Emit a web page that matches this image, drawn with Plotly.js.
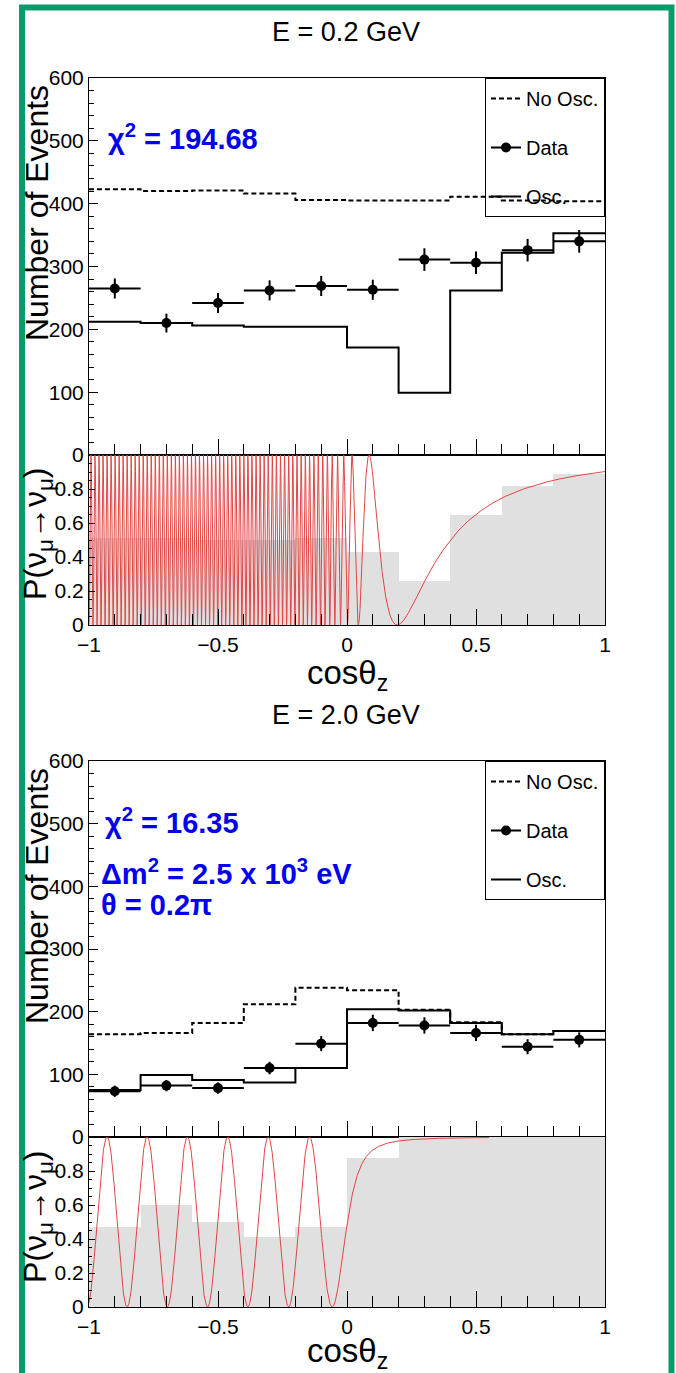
<!DOCTYPE html>
<html><head><meta charset="utf-8">
<script src="https://cdn.plot.ly/plotly-3.0.1.min.js"></script>
<style>html,body{margin:0;padding:0;background:#fff}</style>
</head><body><div id="chart" style="width:676px;height:1373px"></div>
<script>
// ---------- data ----------
const binEdges   = [-1, -0.8, -0.6, -0.4, -0.2, 0, 0.2, 0.4, 0.6, 0.8, 1];
const binCenters = [-0.9, -0.7, -0.5, -0.3, -0.1, 0.1, 0.3, 0.5, 0.7, 0.9];
const binHalf    = [0.1, 0.1, 0.1, 0.1, 0.1, 0.1, 0.1, 0.1, 0.1, 0.1];

// E = 0.2 GeV
const noOsc1 = [423, 420, 421, 416, 406, 405, 405, 411, 405, 404];
const osc1   = [212, 210, 206, 204, 204, 171, 99, 262, 322, 353];
const data1  = [265, 210, 242, 262, 269, 263, 311, 306, 326, 340];
const err1   = [16, 15, 16, 16, 16, 16, 18, 18, 18, 18];
const ratio1 = [0.51, 0.51, 0.50, 0.50, 0.51, 0.43, 0.26, 0.65, 0.82, 0.89];

// E = 2.0 GeV
const noOsc2 = [164, 166, 182, 212, 238, 234, 203, 183, 164, 169];
const osc2   = [75, 99, 91, 87, 110, 204, 202, 182, 164, 169];
const data2  = [73, 82, 78, 110, 149, 182, 178, 166, 144, 155];
const err2   = [9, 9, 9, 10, 12, 13, 13, 13, 12, 12];
const ratio2 = [0.47, 0.60, 0.50, 0.41, 0.47, 0.875, 1, 1, 1, 1];

// oscillation-curve parameters (the red TF1 in the reference)
const energies = [0.2, 2.0];       // GeV
const deltaM2  = 2.5e-3;           // eV^2
const curveEnd = [1.0, 0.55];      // where the drawn curve stops
const yTicksTop = [0, 100, 200, 300, 400, 500, 600];
const yTicksP   = [0, 0.2, 0.4, 0.6, 0.8];
const xTickText = ['\u22121', '\u22120.5', '0', '0.5', '1'];

// ---------- helpers ----------
const W = 676, H = 1373;
const FONT = 'Liberation Sans, Arial, Helvetica, sans-serif';
const px = v => v / W;
const py = v => 1 - v / H;

function stepY(vals) { return vals.concat([vals[vals.length - 1]]); }
function isolate(arr) { const o = []; arr.forEach((v, i) => { if (i) o.push(null); o.push(v); }); return o; }
function survival(c, E) {
  const R = 6371, h = 20;
  const L = -R * c + Math.sqrt(R * R * c * c + 2 * R * h + h * h);
  const s = Math.sin(1.27 * deltaM2 * L / E);
  return 1 - s * s;
}
function curve(E, xEnd, n) {
  const xs = [], ys = [];
  for (let i = 0; i <= n; i++) { const c = -1 + (xEnd + 1) * i / n; xs.push(c); ys.push(survival(c, E)); }
  return {xs, ys};
}

const traces = [];
function panelTraces(k, noOsc, osc, data, err, ratio, E, xEnd, nPts) {
  const s = k === 0 ? ['x', 'y', 'x2', 'y2', 'legend'] : ['x3', 'y3', 'x4', 'y4', 'legend2'];
  traces.push({type: 'bar', x: binCenters, y: ratio, width: 0.2, xaxis: s[2], yaxis: s[3],
    marker: {color: '#e0e0e0', line: {width: 0}}, showlegend: false, hoverinfo: 'skip'});
  const cv = curve(E, xEnd, nPts);
  traces.push({type: 'scatter', mode: 'lines', x: cv.xs, y: cv.ys, xaxis: s[2], yaxis: s[3],
    line: {color: 'rgb(226,70,70)', width: 1}, showlegend: false, hoverinfo: 'skip'});
  traces.push({type: 'scatter', mode: 'lines', name: 'No Osc.', x: binEdges, y: stepY(noOsc),
    xaxis: s[0], yaxis: s[1], legend: s[4], legendgroup: 'a' + k,
    line: {shape: 'hv', color: 'black', width: 2, dash: '5px,3px'}});
  traces.push({type: 'scatter', mode: 'lines+markers', name: 'Data', x: isolate(binCenters), y: isolate(data),
    xaxis: s[0], yaxis: s[1], legend: s[4], legendgroup: 'b' + k, connectgaps: false,
    line: {color: 'black', width: 2}, marker: {color: 'black', size: 10, symbol: 'circle'},
    error_y: {type: 'data', array: isolate(err), width: 0, thickness: 2, color: 'black'},
    error_x: {type: 'data', array: isolate(binHalf), width: 0, thickness: 2, color: 'black'}});
  traces.push({type: 'scatter', mode: 'lines', name: 'Osc.', x: binEdges, y: stepY(osc),
    xaxis: s[0], yaxis: s[1], legend: s[4], legendgroup: 'c' + k,
    line: {shape: 'hv', color: 'black', width: 2}});
}
panelTraces(0, noOsc1, osc1, data1, err1, ratio1, energies[0], curveEnd[0], 6000);
panelTraces(1, noOsc2, osc2, data2, err2, ratio2, energies[1], curveEnd[1], 1500);

// ---------- geometry (pixels) ----------
const X0 = 89, X1 = 605;
const tops = [78, 761], mids = [455, 1137], bots = [625, 1307];

const minorP = []; for (let i = 0; i <= 20; i++) minorP.push(i * 0.05);
function xAxis(anchor, labels) {
  return {domain: [px(X0), px(X1)], range: [-1, 1], anchor: anchor, showgrid: false, zeroline: false,
    showline: true, mirror: true, linecolor: 'black', linewidth: 1,
    ticks: 'inside', tickmode: 'array', tickvals: [-1, -0.5, 0, 0.5, 1], ticktext: xTickText, ticklen: 16, tickcolor: 'black',
    minor: {dtick: 0.1, tick0: -1, ticks: 'inside', ticklen: 11, tickcolor: 'black', showgrid: false},
    showticklabels: labels, ticklabelstandoff: 1, tickfont: {family: FONT, size: 21, color: 'black'}};
}
function yTop(anchor, k) {
  return {domain: [py(mids[k]), py(tops[k])], range: [0, 600], anchor: anchor, showgrid: false, zeroline: false,
    showline: true, mirror: true, linecolor: 'black', linewidth: 1,
    ticks: 'inside', tickmode: 'array', tickvals: yTicksTop, ticklen: 9, tickcolor: 'black',
    minor: {dtick: 20, tick0: 0, ticks: 'inside', ticklen: 5, tickcolor: 'black', showgrid: false},
    tickfont: {family: FONT, size: 21, color: 'black'}};
}
function yP(anchor, k) {
  return {domain: [py(bots[k]), py(mids[k])], range: [0, 1], anchor: anchor, showgrid: false, zeroline: false,
    showline: true, mirror: true, linecolor: 'black', linewidth: 1,
    ticks: 'inside', tickmode: 'array', tickvals: yTicksP, ticktext: yTicksP.map(String), ticklen: 6, tickcolor: 'black',
    minor: {tickmode: 'array', tickvals: minorP, ticks: 'inside', ticklen: 3, tickcolor: 'black', showgrid: false},
    tickfont: {family: FONT, size: 21, color: 'black'}};
}
function legendAt(k) {
  return {x: px(X1), xanchor: 'right', y: py(tops[k]), yanchor: 'top', xref: 'paper', yref: 'paper',
    bgcolor: 'rgba(0,0,0,0)', bordercolor: 'black', borderwidth: 1, tracegroupgap: 20, itemwidth: 30,
    font: {family: FONT, size: 20, color: 'black'}};
}

const annotations = [];
function ann(text, x, y, size, opts) {
  annotations.push(Object.assign({text: text, xref: 'paper', yref: 'paper', x: px(x), y: py(y),
    showarrow: false, font: {family: FONT, size: size, color: 'black'}, xanchor: 'center', yanchor: 'middle'}, opts || {}));
}
[0, 1].forEach(k => {
  const off = k * 683;
  ann('Number of Events', 37, 213 + off, 32, {textangle: -90});
  ann('P(\u03bd<sub>\u03bc</sub>\u2192\u03bd<sub>\u03bc</sub>)', 37, 534 + off, 32, {textangle: -90});
  ann('cos\u03b8<sub>z</sub>', 347, 675 + k * 678, 33);
});
ann('E = 2.0 GeV', 346, 32 + 683, 27);
const BLUE = '#0000ee';
const bf = {family: FONT, size: 29, color: BLUE};
ann('<b>\u03c7<sup>2</sup> = 194.68</b>', 106, 137, 29, {xanchor: 'left', font: bf});
ann('<b>\u03c7<sup>2</sup> = 16.35</b>', 103, 821, 29, {xanchor: 'left', font: bf});
ann('<b>\u0394m<sup>2</sup> = 2.5 x 10<sup>3</sup> eV</b>', 99, 872, 29, {xanchor: 'left', font: bf});
ann('<b>\u03b8 = 0.2\u03c0</b>', 99, 905, 29, {xanchor: 'left', font: bf});

const layout = {
  width: W, height: H, margin: {l: 0, r: 0, t: 0, b: 0}, paper_bgcolor: 'white', plot_bgcolor: 'rgba(0,0,0,0)',
  title: {text: 'E = 0.2 GeV', font: {family: FONT, size: 27, color: 'black'}, x: px(346), xanchor: 'center',
    xref: 'paper', y: py(32), yref: 'container', yanchor: 'middle'},
  font: {family: FONT, color: 'black'},
  barmode: 'overlay', bargap: 0,
  xaxis: xAxis('y', false), yaxis: yTop('x', 0),
  xaxis2: xAxis('y2', true), yaxis2: yP('x2', 0),
  xaxis3: xAxis('y3', false), yaxis3: yTop('x3', 1),
  xaxis4: xAxis('y4', true), yaxis4: yP('x4', 1),
  legend: legendAt(0), legend2: legendAt(1),
  annotations: annotations,
  shapes: [{type: 'rect', xref: 'paper', yref: 'paper', x0: px(22), x1: px(671.5), y0: -0.05, y1: py(7.5),
    line: {color: '#089c6c', width: 6}, fillcolor: 'rgba(0,0,0,0)', layer: 'above'}],
  showlegend: true
};
Plotly.newPlot('chart', traces, layout, {displayModeBar: false, staticPlot: true});
</script></body></html>
